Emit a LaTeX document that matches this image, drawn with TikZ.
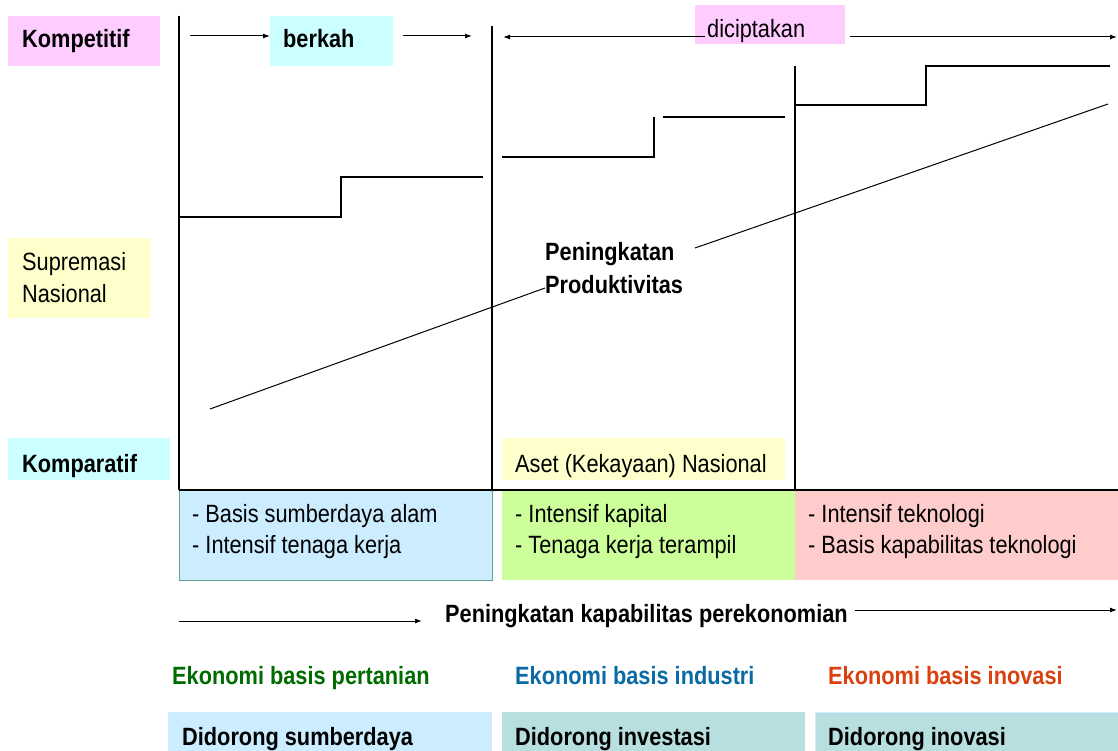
\documentclass[tikz,border=0pt]{standalone}
\usepackage{fontspec}
\setmainfont[FakeStretch=0.87]{Liberation Sans}
\usetikzlibrary{arrows.meta}
\definecolor{pinkbg}{HTML}{FFCCFF}
\definecolor{cyanbg}{HTML}{CCFFFF}
\definecolor{yellowbg}{HTML}{FFFFCC}
\definecolor{bluebg}{HTML}{CCECFF}
\definecolor{greenbg}{HTML}{CCFF99}
\definecolor{redbg}{HTML}{FFCCCC}
\definecolor{tealbg}{HTML}{B7DFE0}
\definecolor{boxedge}{HTML}{5FA58A}
\definecolor{ecogreen}{HTML}{006B00}
\definecolor{ecoblue}{HTML}{0A6AA6}
\definecolor{ecored}{HTML}{D9420F}
\tikzset{
  panel/.style={anchor=north west,inner sep=0pt,outer sep=0pt},
  lbl/.style={anchor=base west,inner sep=0pt,font=\fontsize{25}{30}\selectfont},
  blbl/.style={lbl,font=\fontsize{25}{30}\selectfont\bfseries},
  divider/.style={line width=2pt},
  stepline/.style={line width=1.6pt},
  thin/.style={line width=1pt},
  arr/.style={thin,-{Latex[length=7pt,width=5pt]}},
}
\begin{document}
\begin{tikzpicture}[x=1pt,y=-1pt]
\useasboundingbox (0,0) rectangle (1118,751);
% coloured panels
\node[panel,fill=pinkbg,minimum width=152pt,minimum height=50pt] (kompBox) at (8,16) {};
\node[panel,fill=cyanbg,minimum width=123pt,minimum height=50pt] (berkahBox) at (270,16) {};
\node[panel,fill=pinkbg,minimum width=150pt,minimum height=39pt] (cipBox) at (695,5) {};
\node[panel,fill=yellowbg,minimum width=142pt,minimum height=80pt] (supBox) at (8,238) {};
\node[panel,fill=cyanbg,minimum width=162pt,minimum height=42pt] (kompaBox) at (8,438) {};
\node[panel,fill=yellowbg,minimum width=283pt,minimum height=42pt] (asetBox) at (502,438) {};
\node[panel,fill=bluebg,draw=boxedge,line width=1pt,minimum width=313pt,minimum height=90pt] (blueBox) at (179,490) {};
\node[panel,fill=greenbg,minimum width=293pt,minimum height=90pt] (greenBox) at (502,490) {};
\node[panel,fill=redbg,minimum width=323pt,minimum height=90pt] (redBox) at (795,490) {};
\node[panel,fill=bluebg,minimum width=324pt,minimum height=40pt] (drv1) at (168,712) {};
\node[panel,fill=tealbg,minimum width=303pt,minimum height=40pt] (drv2) at (502,712) {};
\node[panel,fill=tealbg,draw=bluebg,line width=1pt,minimum width=303pt,minimum height=40pt] (drv3) at (815,712) {};
% texts
\node[blbl] (tKomp) at (22,48) {Kompetitif};
\node[blbl] (tBerkah) at (283,48) {berkah};
\node[lbl] (tCip) at (707,38) {diciptakan};
\node[lbl] (tSup1) at (22,270) {Supremasi};
\node[lbl] (tSup2) at (22,302) {Nasional};
\node[blbl] (tKompa) at (22,472) {Komparatif};
\node[lbl] (tAset) at (515,472) {Aset (Kekayaan) Nasional};
\node[blbl] (tPen1) at (545,261) {Peningkatan};
\node[blbl] (tPen2) at (545,293) {Produktivitas};
\node[lbl] (b1a) at (192,522) {- Basis sumberdaya alam};
\node[lbl] (b1b) at (192,553) {- Intensif tenaga kerja};
\node[lbl] (b2a) at (515,522) {- Intensif kapital};
\node[lbl] (b2b) at (515,553) {- Tenaga kerja terampil};
\node[lbl] (b3a) at (808,522) {- Intensif teknologi};
\node[lbl] (b3b) at (808,553) {- Basis kapabilitas teknologi};
\node[blbl] (tKap) at (445,622) {Peningkatan kapabilitas perekonomian};
\node[blbl,text=ecogreen] (e1) at (172,684) {Ekonomi basis pertanian};
\node[blbl,text=ecoblue] (e2) at (515,684) {Ekonomi basis industri};
\node[blbl,text=ecored] (e3) at (828,684) {Ekonomi basis inovasi};
\node[blbl] (d1) at (182,745) {Didorong sumberdaya};
\node[blbl] (d2) at (515,745) {Didorong investasi};
\node[blbl] (d3) at (828,745) {Didorong inovasi};
% coordinates
\coordinate (v1t) at (179,16); \coordinate (v1b) at (179,490);
\coordinate (v2t) at (492,26); \coordinate (v2b) at (492,490);
\coordinate (v3t) at (795,66); \coordinate (v3b) at (795,490);
\coordinate (hl) at (179,490); \coordinate (hr) at (1118,490);
\coordinate (a1s) at (190,36); \coordinate (a1e) at (270,36);
\coordinate (a2s) at (403,36); \coordinate (a2e) at (472,36);
\coordinate (a3s) at (705,37); \coordinate (a3e) at (503,37);
\coordinate (a4s) at (850,37); \coordinate (a4e) at (1117,37);
\coordinate (k1s) at (179,621); \coordinate (k1e) at (422,621);
\coordinate (k2s) at (855,610); \coordinate (k2e) at (1117,610);
\coordinate (p1s) at (210,409); \coordinate (p1e) at (545,288);
\coordinate (p2s) at (695,248); \coordinate (p2e) at (1108,104);
% dividers
\draw[divider] (v1t) -- (v1b);
\draw[divider] (v2t) -- (v2b);
\draw[divider] (v3t) -- (v3b);
\draw[divider] (hl) -- (hr);
% steps
\draw[stepline] (179,217) -- (341,217) -- (341,177) -- (483,177);
\draw[stepline] (502,157) -- (654,157) -- (654,117);
\draw[stepline] (663,117) -- (785,117);
\draw[stepline] (795,105) -- (926,105) -- (926,66) -- (1110,66);
% productivity line
\draw[thin] (p1s) -- (p1e);
\draw[thin] (p2s) -- (p2e);
% arrows
\draw[arr] (a1s) -- (a1e);
\draw[arr] (a2s) -- (a2e);
\draw[arr] (a3s) -- (a3e);
\draw[arr] (a4s) -- (a4e);
\draw[arr] (k1s) -- (k1e);
\draw[arr] (k2s) -- (k2e);
\end{tikzpicture}
\end{document}
